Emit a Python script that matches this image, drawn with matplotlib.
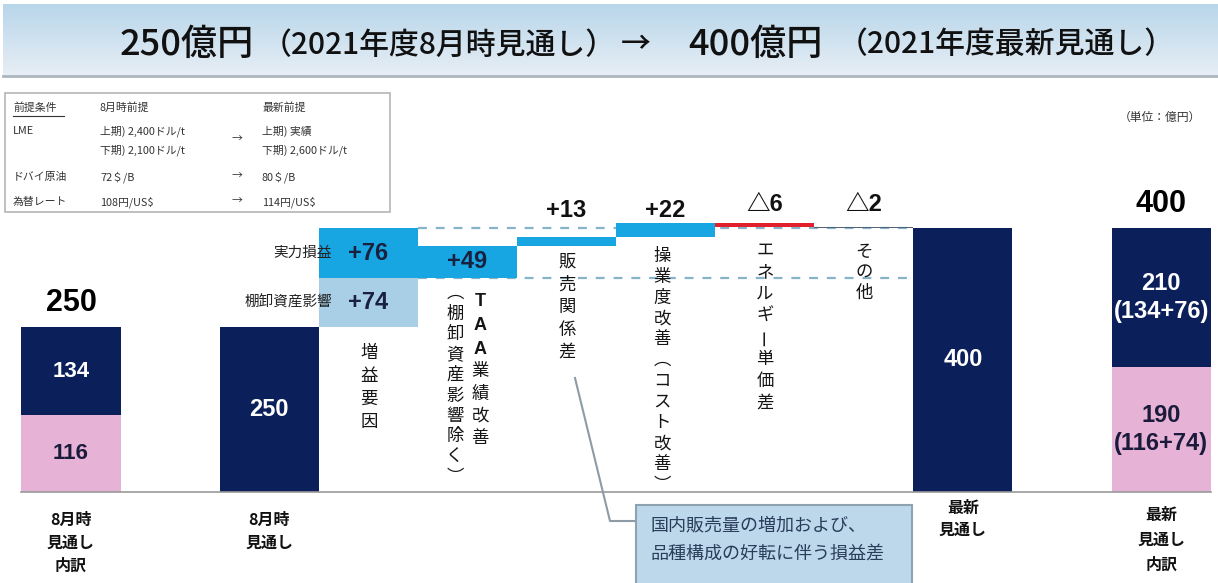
import matplotlib
matplotlib.use('Agg')
import matplotlib.pyplot as plt
import numpy as np
from matplotlib.patches import Rectangle
from matplotlib.colors import LinearSegmentedColormap

plt.rcParams['font.family'] = ['Noto Sans CJK JP', 'DejaVu Sans']

# 経常利益の推移（億円）
aug_total = 250
aug_split = [116, 134]            # 下段, 上段
latest_total = 400
latest_split = [190, 210]
latest_split_labels = ['190\n(116+74)', '210\n(134+76)']
inventory_gain = 74
real_gain = 76
factor_values = [49, 13, 22, -6, -2]
factor_labels = ['+49', '+13', '+22', '△6', '△2']
bar_x = [0, 2, 3, 4, 5, 6, 7, 8, 9, 11]
bottom_labels = ['8月時\n見通し\n内訳', '8月時\n見通し', '最新\n見通し', '最新\n見通し\n内訳']

# 前提条件
table_rows = [
    ('LME', ['上期) 2,400ドル/t', '下期) 2,100ドル/t'], ['上期) 実績', '下期) 2,600ドル/t']),
    ('ドバイ原油', ['72＄/B'], ['80＄/B']),
    ('為替レート', ['108円/US$'], ['114円/US$']),
]

NAVY = '#0b1f5b'
PINK = '#e6b3d6'
BLUE = '#18a6e3'
LIGHT = '#a9cfe7'
RED = '#e0202a'
NUM = ['Liberation Sans', 'Noto Sans CJK JP']

W, H = 1218, 583
X0, XS = 71, 99.1
Y0, YS = 492, 0.66


def dx(px):
    return (px - X0) / XS


def dy(py):
    return (Y0 - py) / YS


fig = plt.figure(figsize=(W / 100, H / 100), dpi=100)
ax = fig.add_axes([0, 0, 1, 1])
xmin, xmax = dx(0), dx(W)
ymin, ymax = dy(H), dy(0)

# タイトル帯
grad = np.linspace(0, 1, 100).reshape(-1, 1)
cmap = LinearSegmentedColormap.from_list('band', ['#b8d6ea', '#e7eef5'])
ax.imshow(grad, cmap=cmap, aspect='auto', extent=(dx(3), xmax, dy(75), dy(4)), zorder=0)
ax.plot([dx(3), xmax], [dy(76), dy(76)], color='#aab5be', lw=2, zorder=1)
title_parts = [
    (120, '250億円', 26),
    (262, '（2021年度8月時見通し）', 21.5),
    (621, '→', 21.5),
    (688, '400億円', 26),
    (838, '（2021年度最新見通し）', 21.5),
]
for px, s, fs in title_parts:
    ax.text(dx(px), dy(45), s, ha='left', va='center', fontsize=fs, color='#111111',
            fontweight='medium')

# 前提条件テーブル
ax.add_patch(Rectangle((dx(5), dy(212)), dx(390) - dx(5), dy(93) - dy(212),
                       facecolor='white', edgecolor='#b5b5b5', lw=1.2, zorder=2))
tkw = dict(fontsize=7.8, color='#333333', va='center', ha='left', zorder=3)
ax.text(dx(13), dy(107), '前提条件', **tkw)
ax.plot([dx(13), dx(64)], [dy(116), dy(116)], color='#333333', lw=0.8, zorder=3)
ax.text(dx(100), dy(107), '8月時前提', **tkw)
ax.text(dx(262), dy(107), '最新前提', **tkw)
row_y = [131, 177, 202]
for (name, before, after), ry in zip(table_rows, row_y):
    ax.text(dx(13), dy(ry), name, **tkw)
    for i, s in enumerate(before):
        ax.text(dx(100), dy(ry + 19 * i), s, **tkw)
    for i, s in enumerate(after):
        ax.text(dx(262), dy(ry + 19 * i), s, **tkw)
    ax.text(dx(232), dy(ry + 9 * (len(before) - 1)), '→', **tkw)

ax.text(dx(1160), dy(117), '（単位：億円）', ha='center', va='center', fontsize=8.5, color='#333333')

# 基準線
ax.plot([-0.5, 11.5], [0, 0], color='#9a9a9a', lw=1.2, zorder=3)

# 破線（324, 400）
base = aug_total + inventory_gain
for yv in (base, latest_total):
    ax.plot([3.5, 8.5], [yv, yv], color='#86b3c9', lw=1.6, dashes=(4, 4), zorder=1)

# 8月時見通し内訳
ax.bar(bar_x[0], aug_split[0], width=1.0, color=PINK, zorder=2)
ax.bar(bar_x[0], aug_split[1], bottom=aug_split[0], width=1.0, color=NAVY, zorder=2)
ax.text(bar_x[0], aug_split[0] / 2, str(aug_split[0]), ha='center', va='center',
        fontsize=16, fontweight='bold', color='#1a1a3a', family=NUM)
ax.text(bar_x[0], aug_split[0] + aug_split[1] / 2, str(aug_split[1]), ha='center', va='center',
        fontsize=16, fontweight='bold', color='white', family=NUM)
ax.text(bar_x[0], aug_total + 36, str(aug_total), ha='center', va='center',
        fontsize=22, fontweight='bold', color='black', family=NUM)

# 8月時見通し
ax.bar(bar_x[1], aug_total, width=1.0, color=NAVY, zorder=2)
ax.text(bar_x[1], aug_total / 2, str(aug_total), ha='center', va='center',
        fontsize=17, fontweight='bold', color='white', family=NUM)

# 増益要因（棚卸資産影響 + 実力損益）
ax.bar(bar_x[2], inventory_gain, bottom=aug_total, width=1.0, color=LIGHT, zorder=2)
ax.bar(bar_x[2], real_gain, bottom=base, width=1.0, color=BLUE, zorder=2)
ax.text(bar_x[2], aug_total + inventory_gain / 2, f'+{inventory_gain}', ha='center', va='center',
        fontsize=17, fontweight='bold', color='#1a2040', family=NUM, zorder=4)
ax.text(bar_x[2], base + real_gain / 2, f'+{real_gain}', ha='center', va='center',
        fontsize=17, fontweight='bold', color='#1a2040', family=NUM, zorder=4)
ax.text(dx(332), base + real_gain / 2, '実力損益', ha='right', va='center', fontsize=10.5, color='#222222', zorder=4)
ax.text(dx(332), aug_total + inventory_gain / 2, '棚卸資産影響', ha='right', va='center', fontsize=10.5, color='#222222', zorder=4)

# 実力損益の内訳
level = base
for i, (v, lab) in enumerate(zip(factor_values, factor_labels)):
    x = bar_x[3 + i]
    if v > 0:
        ax.bar(x, v, bottom=level, width=1.0, color=BLUE, zorder=2)
    else:
        ax.bar(x, -v, bottom=level + v, width=1.0, color=RED if i == 3 else '#56627a', zorder=2)
    if i == 0:
        ax.text(x, level + v / 2, lab, ha='center', va='center', fontsize=17,
                fontweight='bold', color='#1a2040', family=NUM, zorder=4)
    else:
        ly = 426 if v > 0 else 435
        ax.text(x, ly, lab, ha='center', va='center', fontsize=17,
                fontweight='bold', color='#111111', family=NUM, zorder=4)
    level += v

# 最新見通し
ax.bar(bar_x[8], latest_total, width=1.0, color=NAVY, zorder=2)
ax.text(bar_x[8], latest_total / 2, str(latest_total), ha='center', va='center',
        fontsize=17, fontweight='bold', color='white', family=NUM)

# 最新見通し内訳
ax.bar(bar_x[9], latest_split[0], width=1.0, color=PINK, zorder=2)
ax.bar(bar_x[9], latest_split[1], bottom=latest_split[0], width=1.0, color=NAVY, zorder=2)
ax.text(bar_x[9], latest_split[0] / 2, latest_split_labels[0], ha='center', va='center',
        fontsize=17, fontweight='bold', color='#1a1a3a', family=NUM, linespacing=1.25)
ax.text(bar_x[9], latest_split[0] + latest_split[1] / 2, latest_split_labels[1], ha='center', va='center',
        fontsize=17, fontweight='bold', color='white', family=NUM, linespacing=1.25)
ax.text(bar_x[9], latest_total + 37, str(latest_total), ha='center', va='center',
        fontsize=22, fontweight='bold', color='black', family=NUM)


# 縦書きラベル（長音記号は90度回転）
def vtext(px, py0, chars, step=22.5, size=12.5, **kw):
    for i, ch in enumerate(chars):
        ax.text(dx(px), dy(py0 + i * step), ch, ha='center', va='center',
                fontsize=size, color='#151515', zorder=4,
                rotation=90 if ch == 'ー' else 0, **kw)


vtext(369, 353, '増益要因', step=23)
vtext(480, 302, 'TAA', step=24, size=13, fontweight='bold', family=NUM)
vtext(480, 371, '業績改善', step=22.5)
vtext(455, 293, '︵棚卸資産影響除く︶', step=20.5)
vtext(567, 262, '販売関係差', step=22.5)
vtext(662, 256, '操業度改善︵コスト改善︶', step=20.8)
vtext(765, 250, 'エネルギー単価差', step=21.8)
vtext(864, 252, 'その他', step=20.5)

# 下段ラベル
label_tops = [520, 520, 508, 515]
label_steps = [23, 23, 22, 25]
for x, s, top, st in zip([bar_x[0], bar_x[1], bar_x[8], bar_x[9]], bottom_labels, label_tops, label_steps):
    for j, line in enumerate(s.split('\n')):
        ax.text(x, dy(top + j * st), line, ha='center', va='center', fontsize=11.5,
                color='#111111', fontweight='bold')

# 販売関係差の注記
lx = [575, 610, 636]
ly = [378, 521, 521]
ax.plot([dx(v) for v in lx], [dy(v) for v in ly], color='#8d9ba6', lw=1.5, zorder=3)
ax.add_patch(Rectangle((dx(636), dy(595)), dx(912) - dx(636), dy(505) - dy(595),
                       facecolor='#bdd8eb', edgecolor='#8fa2b2', lw=1.5, zorder=3))
ax.text(dx(651), dy(525), '国内販売量の増加および、', ha='left', va='center', fontsize=13, color='#2a3d5a', zorder=4)
ax.text(dx(651), dy(554), '品種構成の好転に伴う損益差', ha='left', va='center', fontsize=13, color='#2a3d5a', zorder=4)

ax.set_xlim(xmin, xmax)
ax.set_ylim(ymin, ymax)
ax.axis('off')

fig.savefig('out.png', dpi=100, facecolor='white')
